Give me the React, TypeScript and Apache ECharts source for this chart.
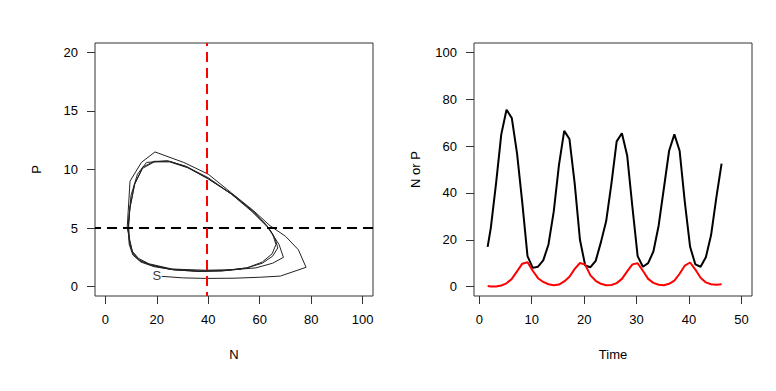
import React, { useEffect, useRef } from "react";
import * as echarts from "echarts";

// ---- time series (right panel) ----
const time = [1.6, 2.2, 3.2, 4.2, 5.2, 6.2, 7.2, 8.2, 9.2, 10.2, 11.2, 12.2, 13.2, 14.2, 15.2, 16.2, 17.2, 18.2, 19.2, 20.2, 21.2, 22.2, 23.2, 24.2, 25.2, 26.2, 27.2, 28.2, 29.2, 30.2, 31.2, 32.2, 33.2, 34.2, 35.2, 36.2, 37.2, 38.2, 39.2, 40.2, 41.2, 42.2, 43.2, 44.2, 45.2, 46.2];
const preyN = [17, 25, 44, 65, 75.5, 72, 57, 36, 13, 8, 8.5, 11.2, 18, 32, 52, 66.5, 63, 44, 20, 9, 8.3, 11, 19, 28, 44, 62, 65.5, 56, 34, 13, 8.5, 10, 15, 26, 42, 58, 65, 58, 36, 17, 9.5, 8.5, 12.5, 22, 38, 52.5];
const predP = [0.3, 0.1, 0.1, 0.5, 1.4, 3.3, 6.5, 9.8, 10.4, 6.8, 3.6, 2.0, 1.0, 0.6, 0.9, 2.2, 4.2, 7.6, 10.1, 9.4, 4.8, 2.5, 1.2, 0.6, 0.7, 1.5, 3.3, 6.5, 9.5, 10.0, 6.8, 3.3, 1.6, 0.8, 0.6, 1.2, 2.6, 5.5, 9.0, 10.3, 7.3, 3.8, 1.8, 1.0, 0.8, 1.0];

// ---- phase plane trajectory (left panel) ----
const phaseN = [
  21.9, 30, 39, 50, 60, 68, 78, 75, 70, 64, 57.5, 49, 40, 30.5, 19.3, 14, 9.6, 8.5, 10.5, 13, 17, 26, 39, 50, 58.5, 65, 69.2, 67.5, 63,
  57, 49, 40, 31, 24, 16, 12.5, 10, 9, 9.3, 10.5, 13, 17, 25, 35, 45, 55, 61, 65, 67, 66, 63.5,
  58, 50, 40, 32, 25, 19, 14.5, 11.5, 9.6, 9, 9.4, 10.8, 13.5, 18, 26, 36, 46, 55, 61, 64.8, 66.3, 65, 62.5,
  57, 49, 40, 32, 25, 19, 14.5, 11.3, 9.5, 8.9, 9.3, 10.7, 13.8, 19, 27, 37, 47, 53,
];
const phaseP = [
  0.88, 0.75, 0.7, 0.72, 0.8, 0.9, 1.65, 3.15, 4.3, 5.2, 6.5, 8.0, 9.6, 10.6, 11.5, 10.6, 9.0, 5.0, 3.0, 2.4, 1.95, 1.5, 1.4, 1.45, 1.6, 2.0, 2.5, 3.6, 5.1,
  6.4, 7.9, 9.3, 10.3, 10.75, 10.6, 9.6, 7.8, 5.5, 4.0, 3.0, 2.3, 1.9, 1.5, 1.35, 1.35, 1.6, 2.0, 2.6, 3.3, 4.1, 5.0,
  6.3, 7.8, 9.2, 10.2, 10.7, 10.7, 10.2, 8.8, 6.8, 5.0, 3.7, 2.8, 2.2, 1.8, 1.45, 1.3, 1.35, 1.6, 2.1, 2.8, 3.6, 4.5, 5.3,
  6.5, 7.9, 9.2, 10.15, 10.65, 10.65, 10.1, 8.7, 6.6, 5.0, 3.6, 2.7, 2.1, 1.7, 1.42, 1.3, 1.38, 1.5,
];

const nTicks = [0, 20, 40, 60, 80, 100];
const pTicks = [0, 5, 10, 15, 20];
const timeTicks = [0, 10, 20, 30, 40, 50];
const nOrPTicks = [0, 20, 40, 60, 80, 100];

const equilibriumN = 39.6;
const equilibriumP = 5;
const startN = 20;
const startP = 0.95;
const startText = "S";

const FONT = "'Liberation Sans', Arial, Helvetica, sans-serif";

function valueAxis(gridIndex: number, min: number, max: number, ticks: number[], name: string, nameGap: number) {
  return {
    type: "value",
    gridIndex,
    min,
    max,
    name,
    nameLocation: "middle",
    nameGap,
    nameTextStyle: { fontSize: 13, color: "#000", fontFamily: FONT },
    axisLine: { show: false, onZero: false },
    splitLine: { show: false },
    axisTick: { show: true, inside: false, length: 8, customValues: ticks, lineStyle: { color: "#333", width: 1 } },
    axisLabel: { show: true, customValues: ticks, margin: 17, fontSize: 13, color: "#000", fontFamily: FONT },
  };
}

export default function App() {
  const ref = useRef<HTMLDivElement>(null);
  useEffect(() => {
    if (!ref.current) return;
    const chart = echarts.init(ref.current, undefined, { renderer: "svg" });
    const phaseData = phaseN.map((n, i) => [n, phaseP[i]]);
    const nData = time.map((t, i) => [t, preyN[i]]);
    const pData = time.map((t, i) => [t, predP[i]]);
    chart.setOption({
      animation: false,
      backgroundColor: "#fff",
      textStyle: { fontFamily: FONT },
      grid: [
        { left: 95, top: 43, width: 278, height: 253, show: true, borderColor: "#333", borderWidth: 1, backgroundColor: "transparent" },
        { left: 474, top: 43, width: 278, height: 253, show: true, borderColor: "#333", borderWidth: 1, backgroundColor: "transparent" },
      ],
      xAxis: [
        valueAxis(0, -4, 104, nTicks, "N", 52),
        valueAxis(1, -1, 52, timeTicks, "Time", 52),
      ],
      yAxis: [
        valueAxis(0, -0.8, 20.8, pTicks, "P", 52),
        valueAxis(1, -4, 104, nOrPTicks, "N or P", 52),
      ],
      series: [
        {
          type: "line",
          xAxisIndex: 0,
          yAxisIndex: 0,
          data: phaseData,
          showSymbol: false,
          symbol: "none",
          lineStyle: { color: "#222", width: 1 },
          z: 2,
        },
        {
          type: "line",
          xAxisIndex: 0,
          yAxisIndex: 0,
          data: [],
          markLine: {
            silent: true,
            symbol: "none",
            label: { show: false },
            data: [{ yAxis: equilibriumP, lineStyle: { color: "#000", width: 2, type: [10, 6], dashOffset: 4 } }],
          },
          z: 3,
        },
        {
          type: "line",
          xAxisIndex: 0,
          yAxisIndex: 0,
          data: [],
          markLine: {
            silent: true,
            symbol: "none",
            label: { show: false },
            data: [{ xAxis: equilibriumN, lineStyle: { color: "#ff0000", width: 2, type: [10, 6], dashOffset: 6 } }],
          },
          z: 4,
        },
        {
          type: "scatter",
          xAxisIndex: 0,
          yAxisIndex: 0,
          data: [[startN, startP]],
          symbolSize: 1,
          itemStyle: { color: "transparent" },
          label: { show: true, position: "inside", formatter: startText, fontSize: 13, color: "#000", fontFamily: FONT },
          z: 5,
        },
        {
          type: "line",
          xAxisIndex: 1,
          yAxisIndex: 1,
          data: nData,
          showSymbol: false,
          symbol: "none",
          lineStyle: { color: "#000", width: 2 },
        },
        {
          type: "line",
          xAxisIndex: 1,
          yAxisIndex: 1,
          data: pData,
          showSymbol: false,
          symbol: "none",
          lineStyle: { color: "#ff0000", width: 2 },
        },
      ],
    });
    return () => chart.dispose();
  }, []);
  return <div ref={ref} style={{ position: "fixed", left: 0, top: 0, width: 776, height: 391, background: "#fff" }} />;
}
